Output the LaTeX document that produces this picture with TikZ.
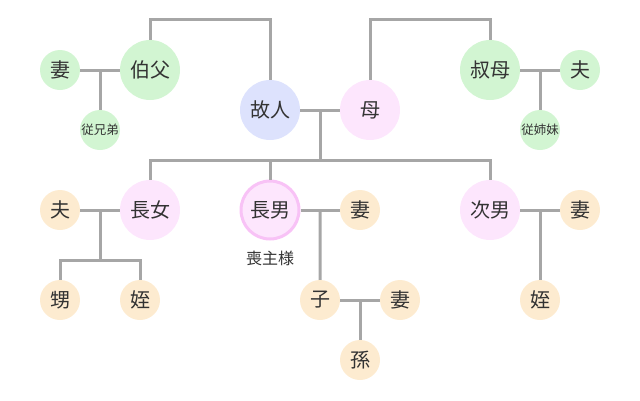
\documentclass[tikz,border=0pt]{standalone}
\usepackage{fontspec}
\setmainfont{Noto Sans CJK JP}
\definecolor{linegray}{HTML}{A6A6A6}
\definecolor{txtgray}{HTML}{333333}
\definecolor{kinblue}{HTML}{DDE2FD}
\definecolor{kinpink}{HTML}{FDE6FD}
\definecolor{kingreen}{HTML}{D2F5D2}
\definecolor{kinorange}{HTML}{FDEBD0}
\definecolor{chiefring}{HTML}{F8C2F6}
\begin{document}
\begin{tikzpicture}[x=1pt,y=-1pt,
    big/.style={circle,inner sep=0pt,minimum size=60pt,text=txtgray,font=\fontsize{20}{24}\selectfont},
    small/.style={circle,inner sep=0pt,minimum size=40pt,text=txtgray,font=\fontsize{20}{24}\selectfont},
    link/.style={draw=linegray,line width=3pt}]
    \useasboundingbox (0,0) rectangle (640,400);
    % --- Deceased and spouse ---
    \node[big,fill=kinblue] (deceased) at (270,110) {故人};
    \node[big,fill=kinpink] (mother) at (370,110) {母};
    % --- Uncle's family (left) ---
    \node[big,fill=kingreen] (uncle) at (150,70) {伯父};
    \node[small,fill=kingreen] (uncleWife) at (60,70) {妻};
    \node[small,fill=kingreen,font=\fontsize{12.5}{14}\selectfont] (cousinM) at (100,130) {従兄弟};
    % --- Aunt's family (right) ---
    \node[big,fill=kingreen] (aunt) at (490,70) {叔母};
    \node[small,fill=kingreen] (auntHusband) at (580,70) {夫};
    \node[small,fill=kingreen,font=\fontsize{12.5}{14}\selectfont] (cousinF) at (540,130) {従姉妹};
    % --- Children ---
    \node[big,fill=kinpink] (daughter) at (150,210) {長女};
    \node[big,fill=kinpink,draw=chiefring,line width=3pt,minimum size=58pt] (son) at (270,210) {長男};
    \node[text=txtgray,font=\fontsize{16}{18}\selectfont] (chief) at (270,258) {喪主様};
    \node[big,fill=kinpink] (son2) at (490,210) {次男};
    % spouses of the children
    \node[small,fill=kinorange] (daughterHusband) at (60,210) {夫};
    \node[small,fill=kinorange] (sonWife) at (360,210) {妻};
    \node[small,fill=kinorange] (son2Wife) at (580,210) {妻};
    % --- Grandchildren and below ---
    \node[small,fill=kinorange] (nephew) at (60,300) {甥};
    \node[small,fill=kinorange] (niece) at (140,300) {姪};
    \node[small,fill=kinorange] (child) at (320,300) {子};
    \node[small,fill=kinorange] (childWife) at (400,300) {妻};
    \node[small,fill=kinorange] (grandchild) at (360,360) {孫};
    \node[small,fill=kinorange] (niece2) at (540,300) {姪};
    % --- Sibling links ---
    \draw[link] (uncle.north) -- ++(0,-20) -| (deceased.north);
    \draw[link] (mother.north) -- ++(0,-60) -| (aunt.north);
    % --- Couples, each with a drop to the children ---
    \draw[link] (deceased) -- (mother) coordinate[midway] (mDeceased);
    \draw[link] (uncleWife) -- (uncle) coordinate[midway] (mUncle);
    \draw[link] (aunt) -- (auntHusband) coordinate[midway] (mAunt);
    \draw[link] (daughterHusband) -- (daughter) coordinate[midway] (mDaughter);
    \draw[link] (son) -- (sonWife) coordinate[midway] (mSon);
    \draw[link] (son2) -- (son2Wife) coordinate[midway] (mSon2);
    \draw[link] (child) -- (childWife) coordinate[midway] (mChild);
    \draw[link] (mUncle) -- (cousinM);
    \draw[link] (mAunt) -- (cousinF);
    \coordinate (kids) at (320,160);
    \draw[link] (mDeceased) -- (kids);
    \draw[link] (kids) -| (daughter.north);
    \draw[link] (kids) -| (son.north);
    \draw[link] (kids) -| (son2.north);
    \coordinate (grandkids) at (100,260);
    \draw[link] (mDaughter) -- (grandkids);
    \draw[link] (grandkids) -| (nephew.north);
    \draw[link] (grandkids) -| (niece.north);
    \draw[link] (mSon) -- (child);
    \draw[link] (mSon2) -- (niece2);
    \draw[link] (mChild) -- (grandchild);
\end{tikzpicture}
\end{document}
